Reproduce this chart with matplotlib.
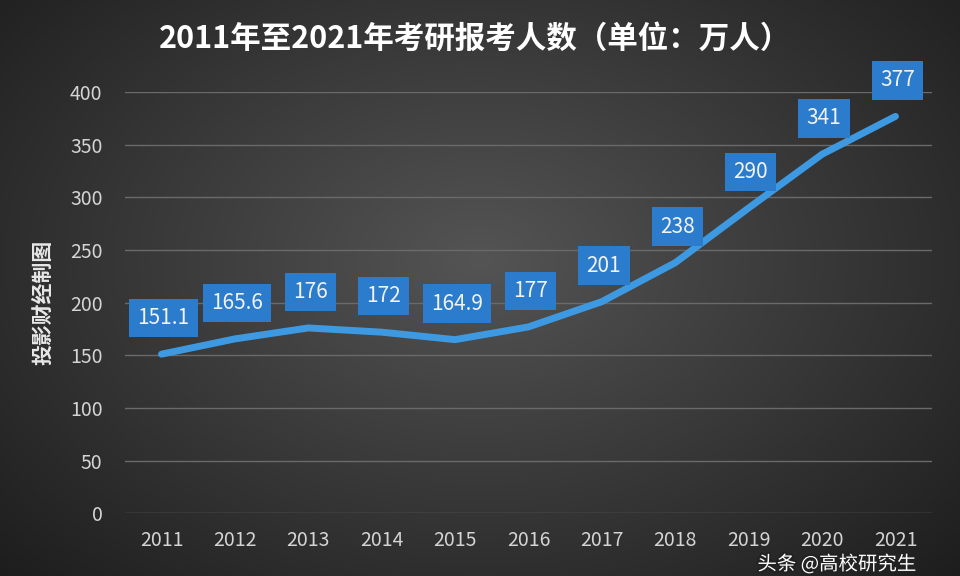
import numpy as np
import matplotlib
matplotlib.use("Agg")
import matplotlib.pyplot as plt
import matplotlib.patheffects as pe

plt.rcParams['font.family'] = ['Noto Sans CJK SC', 'DejaVu Sans']

years = ['2011', '2012', '2013', '2014', '2015', '2016', '2017', '2018', '2019', '2020', '2021']
applicants = [151.1, 165.6, 176, 172, 164.9, 177, 201, 238, 290, 341, 377]
value_labels = ['151.1', '165.6', '176', '172', '164.9', '177', '201', '238', '290', '341', '377']

fig = plt.figure(figsize=(9.6, 5.76), dpi=100)

# dark radial gradient background
bg = fig.add_axes([0, 0, 1, 1], zorder=-10)
yy, xx = np.mgrid[0:576, 0:960]
r = np.sqrt(((xx - 480) / 620.0) ** 2 + ((yy - 260) / 420.0) ** 2)
shade = np.clip(0.33 - 0.2 * r, 0.1, 0.33)
bg.imshow(np.dstack([shade, shade, shade]), aspect='auto', extent=[0, 1, 0, 1])
bg.axis('off')

ax = fig.add_axes([0.130, 0.109, 0.841, 0.731])
ax.patch.set_alpha(0)
x = np.arange(len(years))
ax.plot(x, applicants, color='#3d9ae2', lw=5, solid_capstyle='round', zorder=3)

for xi, v, lab in zip(x, applicants, value_labels):
    ax.annotate(lab, (xi, v), xytext=(2, 36), textcoords='offset pixels',
                ha='center', va='center', fontsize=15, color='#f2f2f2', zorder=5,
                bbox=dict(boxstyle='square,pad=0.4', fc='#2b7ccc', ec='none'),
                annotation_clip=False)

ax.set_xlim(-0.5, len(years) - 0.5)
ax.set_ylim(0, 400)
ax.set_yticks(range(0, 401, 50))
ax.set_xticks(x)
ax.set_xticklabels(years)
ax.grid(axis='y', color='#6a6a6a', lw=1)
ax.set_axisbelow(True)
for s in ax.spines.values():
    s.set_visible(False)
ax.tick_params(length=0, colors='#d4d4d4', labelsize=14, pad=12)
ax.tick_params(axis='y', pad=16)

ax.set_ylabel('投影财经制图', color='#e8e8e8', fontsize=15, fontweight='bold', labelpad=12)

fig.text(0.495, 0.933, '2011年至2021年考研报考人数（单位：万人）', ha='center', va='center',
         color='white', fontsize=22, fontweight='bold')

fig.text(0.872, 0.020, '头条 @高校研究生', ha='center', va='center', color='white',
         fontsize=14, path_effects=[pe.withStroke(linewidth=3, foreground='#222222')])

fig.savefig('out.png', dpi=100)
